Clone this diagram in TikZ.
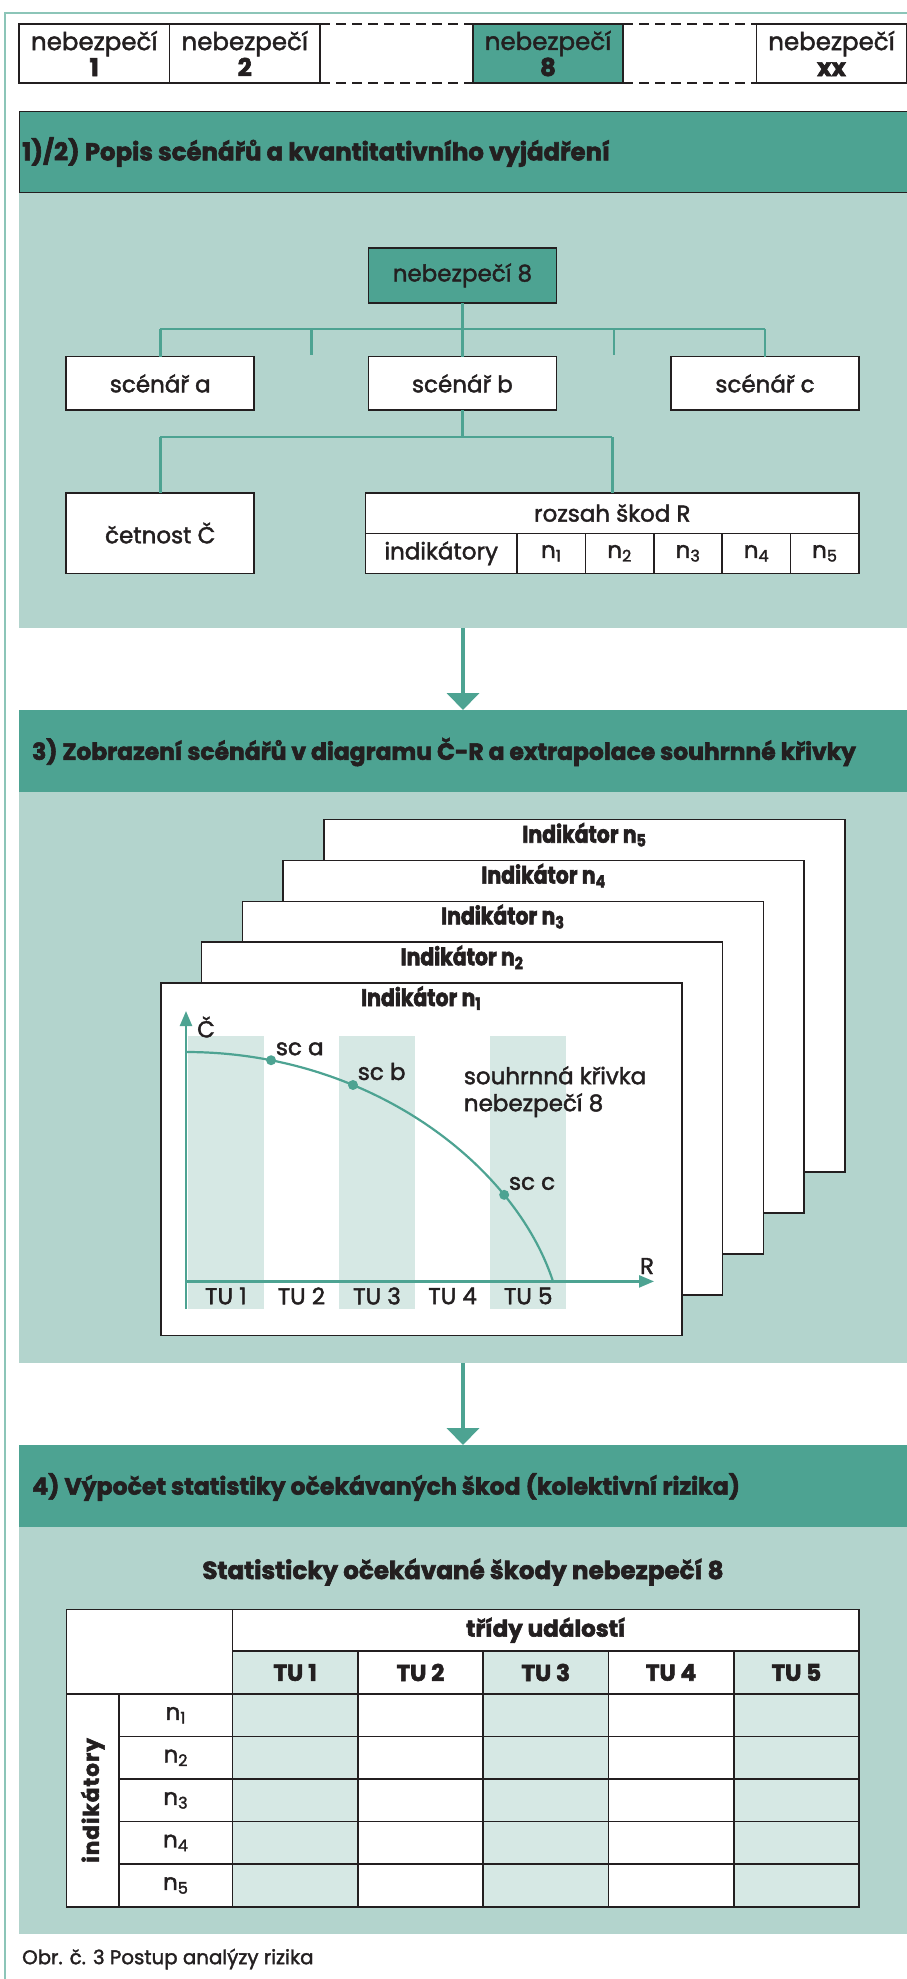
\documentclass[tikz,border=0pt]{standalone}
\usepackage{fontspec}
\setmainfont{Poppins}[UprightFeatures={FakeBold=1.8}, BoldFeatures={FakeBold=2.5}]
\usetikzlibrary{positioning,arrows.meta}

\definecolor{hdrgreen}{HTML}{4DA392}
\definecolor{bodygreen}{HTML}{B3D4CD}
\definecolor{bandgreen}{HTML}{D6E8E4}
\definecolor{framegreen}{HTML}{8CC5B8}
\definecolor{inkblack}{HTML}{231F20}

\tikzset{
  txt/.style={font=\fontsize{23pt}{27pt}\selectfont, text=inkblack},
  boldtxt/.style={font=\fontsize{23pt}{27pt}\selectfont\bfseries, text=inkblack},
  hdrtxt/.style={boldtxt, anchor=west, inner sep=0pt},
  box/.style={draw=inkblack, line width=1.6pt, fill=white, inner sep=0pt, outer sep=0pt, align=center, txt},
  cell/.style={box, minimum width=125.3pt, minimum height=42.54pt, anchor=north west},
  card/.style={box, minimum width=521pt, minimum height=352.6pt, anchor=north west},
  sechead/.style={fill=hdrgreen, inner sep=0pt, outer sep=0pt, minimum width=888pt, minimum height=82pt, anchor=north west},
  secbody/.style={fill=bodygreen, inner sep=0pt, outer sep=0pt, minimum width=888pt, anchor=north west},
  link/.style={draw=hdrgreen, line width=2.5pt},
  flow/.style={draw=hdrgreen, line width=4pt, -{Triangle[width=32pt,length=17pt]}},
  axis/.style={draw=hdrgreen, line width=2.4pt, -{Triangle[width=12pt,length=15pt]}},
  dot/.style={circle, fill=hdrgreen, inner sep=0pt, minimum size=10pt},
  hazbox/.style={box, minimum width=150.5pt, minimum height=59pt, font=\fontsize{24.5pt}{26pt}\selectfont},
}

\begin{document}
\begin{tikzpicture}[x=1pt, y=-1pt]
\useasboundingbox (0,0) rectangle (907,1979);
\draw[framegreen, line width=1.2pt] (5,1979) -- (5,13) -- (907,13);

% hazards
\node[hazbox] (haz1) at (94.25,53.5) {nebezpečí\\\textbf{1}};
\node[hazbox] (haz2) at (244.75,53.5) {nebezpečí\\\textbf{2}};
\node[hazbox, fill=hdrgreen, minimum width=150pt] (haz8) at (548,53.5) {nebezpečí\\\textbf{8}};
\node[hazbox, minimum width=150pt] (hazxx) at (831.5,53.5) {nebezpečí\\\textbf{xx}};
\draw[inkblack, line width=1.6pt, dash pattern=on 10pt off 6pt] (haz2.north east) -- (haz8.north west);
\draw[inkblack, line width=1.6pt, dash pattern=on 10pt off 6pt] (haz2.south east) -- (haz8.south west);
\draw[inkblack, line width=1.6pt, dash pattern=on 10pt off 6pt] (haz8.north east) -- (hazxx.north west);
\draw[inkblack, line width=1.6pt, dash pattern=on 10pt off 6pt] (haz8.south east) -- (hazxx.south west);

% 1)/2)
\node[secbody, minimum height=436pt] (body1) at (19,192) {};
\node[sechead, draw=inkblack, line width=1pt, minimum height=81pt] (head1) at (19,111) {};
\node[hdrtxt, font=\fontsize{24.4pt}{28pt}\selectfont\bfseries] (title1) at (22,152) {1)/2) Popis scénářů a kvantitativního vyjádření};

\node[box, fill=hdrgreen, minimum width=188pt, minimum height=55pt] (hz8) at (462.4,275.4) {nebezpečí 8};
\node[box, minimum width=188pt, minimum height=53.5pt] (scena) at (160.25,383.4) {scénář a};
\node[box, minimum width=188pt, minimum height=53.5pt] (scenb) at (462.4,383.4) {scénář b};
\node[box, minimum width=188pt, minimum height=53.5pt] (scenc) at (765,383.4) {scénář c};

\coordinate (busA) at (160.25,329);
\coordinate (busC) at (765,329);
\coordinate (tickL) at (311.4,329);
\coordinate (tickR) at (613.9,329);
\draw[link] (busA) -- (busC);
\draw[link] (hz8.south) -- (scenb.north);
\draw[link] (busA) -- (scena.north);
\draw[link] (busC) -- (scenc.north);
\draw[link] (tickL) -- ++(0,26);
\draw[link] (tickR) -- ++(0,26);

\node[box, minimum width=188pt, minimum height=80.6pt] (cetnost) at (160.25,533) {četnost Č};
\node[box, minimum width=493.5pt, minimum height=40.6pt] (rozsah) at (612.25,513) {rozsah škod R};
\node[box, minimum width=151.5pt, minimum height=40pt, anchor=north west] (indik) at (rozsah.south west) {indikátory};
\foreach \i in {1,...,5}
  \node[box, minimum width=68.4pt, minimum height=40pt, anchor=north west] (ncell\i) at ({517+68.4*(\i-1)},533.3) {n\textsubscript{\i}};

\coordinate (busD) at (160.25,437);
\coordinate (busE) at (612.25,437);
\draw[link] (scenb.south) -- (scenb.south |- busD);
\draw[link] (busD) -- (busE);
\draw[link] (busD) -- (cetnost.north);
\draw[link] (busE) -- (rozsah.north);

% 3)
\node[sechead] (head3) at (19,710) {};
\node[hdrtxt, font=\fontsize{23.4pt}{27pt}\selectfont\bfseries] (title3) at (32,752) {3) Zobrazení scénářů v diagramu Č-R a extrapolace souhrnné křivky};
\node[secbody, minimum height=571pt] (body3) at (19,792) {};
\draw[flow] (body1.south) -- (head3.north);

\foreach \k in {5,4,3,2,1} {
  \node[card] (card\k) at ({160.7+40.8*(\k-1)},{983-40.85*(\k-1)}) {};
  \node[boldtxt, inner sep=0pt, below=3pt of card\k.north, font=\fontsize{24pt}{27pt}\selectfont\bfseries\addfontfeature{FakeStretch=0.85}] (ctitle\k) {Indikátor n\textsubscript{\k}};
}

\foreach \i in {0,2,4}
  \fill[bandgreen] ({188+75.6*\i},1036) rectangle ++(75.6,273);
\foreach \i in {1,...,5}
  \node[txt, inner sep=0pt] (tu\i) at ({188+75.6*(\i-0.5)},1296) {TU \i};

\coordinate (orig) at (186,1281.4);
\coordinate (ctop) at (186,1011);
\coordinate (cbot) at (186,1309);
\coordinate (rend) at (654,1281.4);
\draw[axis] (cbot) -- (ctop);
\draw[axis] (orig) -- (rend);
\node[txt, anchor=west, inner sep=0pt] (clab) at (197,1027) {Č};
\node[txt, inner sep=0pt] (rlab) at (647,1266) {R};

\draw[hdrgreen, line width=2.2pt] (186,1052) .. controls (370,1052) and (515,1165) .. (553,1281.4)
  coordinate[pos=0.16] (pa) coordinate[pos=0.33] (pb) coordinate[pos=0.745] (pc);
\node[dot] (sca) at (pa) {};
\node[dot] (scb) at (pb) {};
\node[dot] (scc) at (pc) {};
\node[txt, anchor=south west, inner sep=1pt] (labsca) at (sca.north east) {sc a};
\node[txt, anchor=south west, inner sep=1pt] (labscb) at (scb.north east) {sc b};
\node[txt, anchor=south west, inner sep=1pt] (labscc) at (scc.north east) {sc c};
\node[txt, anchor=north west, align=left, inner sep=0pt] (souhrn) at (463.7,1066) {souhrnná křivka\\nebezpečí 8};

% 4)
\node[sechead] (head4) at (19,1445) {};
\node[hdrtxt, font=\fontsize{23.6pt}{27pt}\selectfont\bfseries] (title4) at (32,1487) {4) Výpočet statistiky očekávaných škod (kolektivní rizika)};
\node[secbody, minimum height=407pt] (body4) at (19,1527) {};
\draw[flow] (body3.south) -- (head4.north);

\node[boldtxt, inner sep=0pt, font=\fontsize{24.6pt}{27pt}\selectfont\bfseries] (stattitle) at (463,1572) {Statisticky očekávané škody nebezpečí 8};

\node[box, minimum width=166pt, minimum height=84.7pt, anchor=north west] (corner) at (66.5,1609.3) {};
\node[box, minimum width=626.5pt, minimum height=41.7pt, anchor=north west, boldtxt] (tridy) at (232.5,1609.3) {třídy událostí};
\foreach \c/\shade in {1/bandgreen,2/white,3/bandgreen,4/white,5/bandgreen} {
  \node[cell, fill=\shade, minimum height=43pt, boldtxt] (tuhead\c) at ({232.5+125.3*(\c-1)},1651) {TU \c};
  \foreach \r in {1,...,5}
    \node[cell, fill=\shade] (val\r\c) at ({232.5+125.3*(\c-1)},{1694+42.54*(\r-1)}) {};
}
\node[box, minimum width=52.5pt, minimum height=212.7pt, anchor=north west] (indcell) at (66.5,1694) {};
\node[boldtxt, rotate=90, inner sep=0pt, font=\fontsize{21.5pt}{24pt}\selectfont\bfseries\addfontfeature{LetterSpace=5}] (indlab) at (indcell.center) {indikátory};
\foreach \r in {1,...,5}
  \node[box, minimum width=113.5pt, minimum height=42.54pt, anchor=north west] (nrow\r) at (119,{1694+42.54*(\r-1)}) {n\textsubscript{\r}};

\node[anchor=west, inner sep=0pt, text=inkblack, font=\fontsize{19.8pt}{22pt}\selectfont] (caption) at (22,1959) {Obr. č. 3 Postup analýzy rizika};
\end{tikzpicture}
\end{document}
